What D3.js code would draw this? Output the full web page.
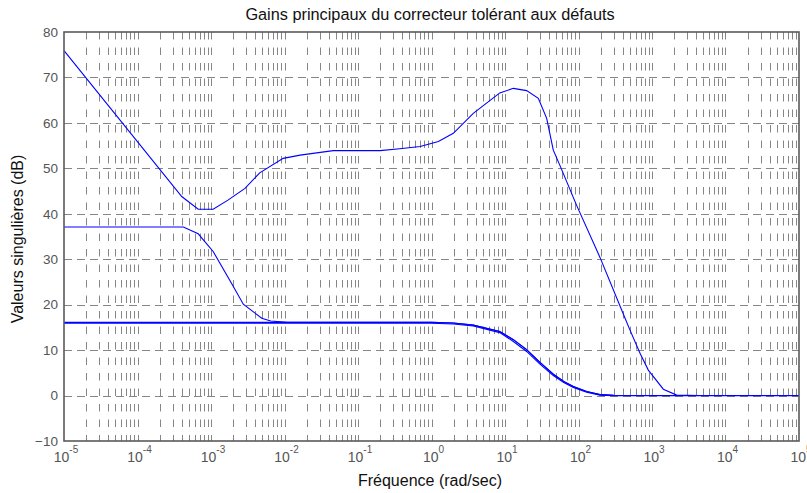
<!DOCTYPE html>
<html><head><meta charset="utf-8">
<script src="https://cdn.jsdelivr.net/npm/d3@7"></script>
<style>body{margin:0;background:#fff}svg{display:block}text{font-family:"Liberation Sans",Arial,Helvetica,sans-serif}</style>
</head><body>
<svg id="c" width="807" height="493"></svg>
<script>
const title = "Gains principaux du correcteur tolérant aux défauts";
const xLabel = "Fréquence (rad/sec)";
const yLabel = "Valeurs singulières (dB)";
const xTickExp = [-5,-4,-3,-2,-1,0,1,2,3,4,5];
const yTicks = [-10,0,10,20,30,40,50,60,70,80];

// singular value 1 (freq rad/s, dB)
const s1Freq = [1e-5,4e-4,6.7e-4,1.07e-3,1.7e-3,2.9e-3,4.6e-3,9.6e-3,0.0163,0.046,0.2,0.37,0.7,1.24,1.98,3.7,8.5,13,19.7,28.4,36.9,45.4,56,94,196,430,502,687,891,1426,2168,4500,1e5];
const s1Db   = [75.9,43.8,41.0,41.0,43.0,45.6,49.0,52.2,52.9,53.9,53.9,54.3,54.8,55.9,57.7,62.1,66.6,67.6,67.1,65.4,61.0,54.0,50.6,41.9,30.4,17.0,14.4,9.3,5.6,1.4,0.1,0,0];
// singular value 2
const s2Freq = [1e-5,4.2e-4,6.7e-4,1.07e-3,1.9e-3,2.75e-3,4.9e-3,6.5e-3,1.1e-2,1,1.98,3.7,8.5,13,19.7,29.9,45.4,63,85,129,196,300,1e5];
const s2Db   = [37.1,37.1,35.6,31.7,24.7,20.1,17.0,16.4,16.1,16.1,15.95,15.5,14.1,12.3,10.1,7.3,4.7,3.1,2.0,0.9,0.2,0.05,0];
// singular values 3 & 4
const s3Freq = [1e-5,1,1.98,3.7,8.5,13,19.7,29.9,45.4,63,85,129,196,300,1e5];
const s3Db   = [16.1,16.1,15.95,15.5,14.1,12.3,10.1,7.3,4.7,3.1,2.0,0.9,0.2,0.05,0];
const s4Freq = [1e-5,1,1.98,3.7,8.5,13,19.7,29.9,45.4,63,85,129,196,300,1e5];
const s4Db   = [15.9,15.9,15.75,15.3,13.85,11.9,9.7,6.9,4.4,2.85,1.8,0.75,0.1,-0.05,-0.05];

const svg = d3.select("#c");
const L=64, R=799, T=32, B=441;
const x = d3.scaleLog().domain([1e-5,1e5]).range([L,R]);
const y = d3.scaleLinear().domain([-10,80]).range([B,T]);
const gridCol = "#868686";

// vertical grid at minor and major ticks
const vx = [];
for (let e=-5;e<5;e++) for (let m=2;m<=10;m++) vx.push(m*Math.pow(10,e));
svg.append("g").selectAll("line").data(vx.filter(v=>v<1e5*0.999)).join("line")
  .attr("x1",d=>Math.round(x(d))+0.5).attr("x2",d=>Math.round(x(d))+0.5)
  .attr("y1",T).attr("y2",B)
  .attr("stroke",gridCol).attr("stroke-width",1).attr("stroke-dasharray","7.5,8");
// horizontal grid
svg.append("g").selectAll("line").data(yTicks.slice(1,-1)).join("line")
  .attr("x1",L).attr("x2",R)
  .attr("y1",d=>Math.round(y(d))+0.5).attr("y2",d=>Math.round(y(d))+0.5)
  .attr("stroke",gridCol).attr("stroke-width",1).attr("stroke-dasharray","8,5");

// curves
const line = d3.line().x(d=>x(d[0])).y(d=>y(d[1]));
const series = [[s4Freq,s4Db],[s3Freq,s3Db],[s2Freq,s2Db],[s1Freq,s1Db]];
svg.append("g").selectAll("path").data(series).join("path")
  .attr("d",s=>line(d3.zip(s[0],s[1])))
  .attr("fill","none").attr("stroke","#0000ff").attr("stroke-width",1.1);

// axes box
const axCol="#5a5a5a";
svg.append("rect").attr("x",L).attr("y",T).attr("width",R-L).attr("height",B-T)
  .attr("fill","none").attr("stroke",axCol).attr("stroke-width",1.6);

// x axis ticks and labels
const xa = d3.axisBottom(x).tickValues(xTickExp.map(e=>Math.pow(10,e))).tickSize(0).tickFormat("");
svg.append("g").attr("transform",`translate(0,${B})`).call(xa).call(g=>g.select(".domain").remove());
const xl = svg.append("g").selectAll("text").data(xTickExp).join("text")
  .attr("x",e=>x(Math.pow(10,e))+2).attr("y",462)
  .attr("fill","#555").attr("font-size",14).attr("text-anchor","middle");
xl.append("tspan").text("10");
xl.append("tspan").attr("dy",-9).attr("font-size",10).text(e=>e);

// y axis
const ya = d3.axisLeft(y).tickValues(yTicks).tickSize(0).tickPadding(6);
svg.append("g").attr("transform",`translate(${L},0)`).call(ya)
  .call(g=>g.select(".domain").remove())
  .call(g=>g.selectAll("text").attr("fill","#555").attr("font-size",13.5)
    .attr("font-family",'"Liberation Sans",Arial,sans-serif'));

// labels
svg.append("text").attr("x",430).attr("y",20).attr("text-anchor","middle")
  .attr("font-size",16.3).attr("fill","#111").text(title);
svg.append("text").attr("x",430).attr("y",486).attr("text-anchor","middle")
  .attr("font-size",16).attr("fill","#111").text(xLabel);
svg.append("text").attr("transform","translate(23,239) rotate(-90)").attr("text-anchor","middle")
  .attr("font-size",16).attr("fill","#111").text(yLabel);
</script>
</body></html>
